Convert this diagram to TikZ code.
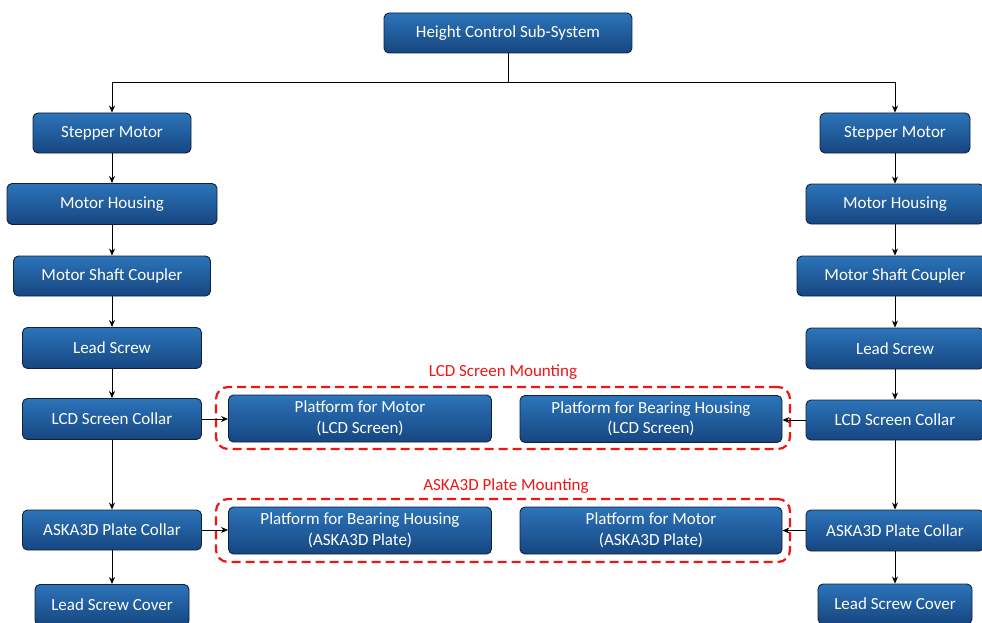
\documentclass[tikz,border=0pt]{standalone}
\usepackage{fontspec}
\setmainfont{Carlito}
\usetikzlibrary{arrows.meta}
\definecolor{boxtop}{RGB}{44,116,186}
\definecolor{boxbot}{RGB}{22,70,128}
\definecolor{boxline}{RGB}{18,32,58}
\definecolor{dashred}{RGB}{240,20,20}
\tikzset{
  box/.style={draw=boxline, line width=0.9pt, rounded corners=5pt,
    top color=boxtop, bottom color=boxbot, text=white,
    font=\fontsize{17}{20.5}\selectfont, align=center, inner sep=0pt},
  arr/.style={-{Stealth[length=7pt,width=6pt]}, line width=0.8pt, black},
  plain/.style={line width=0.8pt, black},
  dashbox/.style={draw=dashred, line width=2.2pt, dash pattern=on 9pt off 5pt,
    rounded corners=12pt, inner sep=0pt},
  redlabel/.style={text=dashred, font=\fontsize{17}{20.5}\selectfont, inner sep=0pt}
}
\begin{document}
\begin{tikzpicture}[x=1pt,y=-1pt]
\useasboundingbox (0,0) rectangle (982,623);
\clip (0,0) rectangle (982,623);
% dashed groups
\node[dashbox, minimum width=574, minimum height=62] (D1) at (503,418) {};
\node[dashbox, minimum width=574, minimum height=63] (D2) at (503,530.5) {};
\node[redlabel] (T1) at (503,372) {LCD Screen Mounting};
\node[redlabel] (T2) at (506,486) {ASKA3D Plate Mounting};
% top
\node[box, minimum width=248, minimum height=40] (T) at (508,33) {Height Control Sub-System};
% left column
\node[box, minimum width=158, minimum height=40] (L1) at (112,133) {Stepper Motor};
\node[box, minimum width=210, minimum height=41] (L2) at (112,204) {Motor Housing};
\node[box, minimum width=197, minimum height=40] (L3) at (112,276) {Motor Shaft Coupler};
\node[box, minimum width=179, minimum height=41] (L4) at (112,348) {Lead Screw};
\node[box, minimum width=179, minimum height=41] (L5) at (112,419) {LCD Screen Collar};
\node[box, minimum width=179, minimum height=40] (L6) at (112,530) {ASKA3D Plate Collar};
\node[box, minimum width=154, minimum height=41] (L7) at (112,605) {Lead Screw Cover};
% right column
\node[box, minimum width=150, minimum height=40] (R1) at (895,133) {Stepper Motor};
\node[box, minimum width=178, minimum height=40] (R2) at (895,204) {Motor Housing};
\node[box, minimum width=196, minimum height=40] (R3) at (895,276) {Motor Shaft Coupler};
\node[box, minimum width=178, minimum height=41] (R4) at (895,348.5) {Lead Screw};
\node[box, minimum width=178, minimum height=40] (R5) at (895,420) {LCD Screen Collar};
\node[box, minimum width=178, minimum height=41] (R6) at (895,530.5) {ASKA3D Plate Collar};
\node[box, minimum width=154, minimum height=40] (R7) at (895,604) {Lead Screw Cover};
% platforms
\node[box, minimum width=263, minimum height=47] (P1) at (360,418.5) {Platform for Motor\\(LCD Screen)};
\node[box, minimum width=262, minimum height=47] (P2) at (651,419) {Platform for Bearing Housing\\(LCD Screen)};
\node[box, minimum width=263, minimum height=47] (P3) at (360,530.5) {Platform for Bearing Housing\\(ASKA3D Plate)};
\node[box, minimum width=262, minimum height=47] (P4) at (651,530.5) {Platform for Motor\\(ASKA3D Plate)};
% connectors
\coordinate (bar) at (508,82);
\draw[plain] (T.south) -- (bar);
\draw[arr] (bar) -| (L1.north);
\draw[arr] (bar) -| (R1.north);
\draw[arr] (L1) -- (L2);
\draw[arr] (L2) -- (L3);
\draw[arr] (L3) -- (L4);
\draw[arr] (L4) -- (L5);
\draw[arr] (L5) -- (L6);
\draw[arr] (L6) -- (L7);
\draw[arr] (R1) -- (R2);
\draw[arr] (R2) -- (R3);
\draw[arr] (R3) -- (R4);
\draw[arr] (R4) -- (R5);
\draw[arr] (R5) -- (R6);
\draw[arr] (R6) -- (R7);
\draw[arr] (L5.east) -- (L5.east -| P1.west);
\draw[arr] (R5.west) -- (R5.west -| P2.east);
\draw[arr] (L6.east) -- (L6.east -| P3.west);
\draw[arr] (R6.west) -- (R6.west -| P4.east);
\end{tikzpicture}
\end{document}
